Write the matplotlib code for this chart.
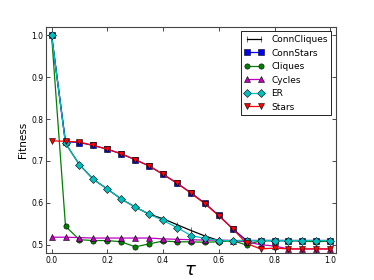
import matplotlib
matplotlib.use("Agg")
import matplotlib.pyplot as plt

tau = [0.0, 0.05, 0.1, 0.15, 0.2, 0.25, 0.3, 0.35, 0.4, 0.45, 0.5,
       0.55, 0.6, 0.65, 0.7, 0.75, 0.8, 0.85, 0.9, 0.95, 1.0]

conn_cliques = [1.0, 0.742, 0.691, 0.656, 0.633, 0.609, 0.590, 0.573, 0.562, 0.548, 0.534,
                0.521, 0.510, 0.510, 0.510, 0.510, 0.510, 0.510, 0.510, 0.510, 0.510]
conn_stars = [1.0, 0.746, 0.744, 0.737, 0.728, 0.717, 0.703, 0.688, 0.668, 0.647, 0.624,
              0.599, 0.570, 0.538, 0.510, 0.510, 0.510, 0.510, 0.510, 0.510, 0.510]
cliques = [1.0, 0.544, 0.512, 0.510, 0.510, 0.507, 0.495, 0.502, 0.509, 0.507, 0.507,
           0.506, 0.507, 0.510, 0.499, 0.510, 0.510, 0.510, 0.509, 0.507, 0.509]
cycles = [0.518, 0.518, 0.517, 0.516, 0.516, 0.516, 0.516, 0.516, 0.514, 0.513, 0.512,
          0.511, 0.511, 0.510, 0.507, 0.500, 0.497, 0.490, 0.490, 0.490, 0.490]
er = [1.0, 0.742, 0.691, 0.656, 0.633, 0.609, 0.590, 0.573, 0.558, 0.541, 0.522,
      0.515, 0.510, 0.510, 0.510, 0.510, 0.510, 0.510, 0.510, 0.510, 0.510]
stars = [0.748, 0.747, 0.745, 0.737, 0.728, 0.717, 0.703, 0.688, 0.668, 0.647, 0.623,
         0.598, 0.569, 0.538, 0.503, 0.490, 0.492, 0.490, 0.490, 0.490, 0.490]

series = [
    ("ConnCliques", conn_cliques, "k", "|"),
    ("ConnStars", conn_stars, "b", "s"),
    ("Cliques", cliques, "g", "o"),
    ("Cycles", cycles, "m", "^"),
    ("ER", er, "c", "D"),
    ("Stars", stars, "r", "v"),
]

fig = plt.figure(figsize=(3.74, 2.8), dpi=100)
ax = fig.add_axes([0.123, 0.096, 0.775, 0.808])
for name, vals, col, mk in series:
    ax.plot(tau, vals, color=col, marker=mk, markersize=3.8, linewidth=0.9,
            markeredgecolor="k", markeredgewidth=0.4, label=name)

ax.set_xlim(-0.02, 1.02)
ax.set_ylim(0.48, 1.02)
ax.set_xticks([0.0, 0.2, 0.4, 0.6, 0.8, 1.0])
ax.set_yticks([0.5, 0.6, 0.7, 0.8, 0.9, 1.0])
ax.tick_params(direction="in", top=True, right=True, labelsize=5.5, length=3, width=0.5, pad=2)
for s in ax.spines.values():
    s.set_linewidth(0.8)
    s.set_color("#444444")
ax.set_xlabel(r"$\tau$", fontsize=13, labelpad=-3)
ax.set_ylabel("Fitness", fontsize=7.5, labelpad=2)
leg = ax.legend(loc="upper right", fontsize=6.5, numpoints=2, fancybox=False,
                framealpha=1, edgecolor="k", handlelength=2.2, labelspacing=0.5,
                borderpad=0.4)
leg.get_frame().set_linewidth(0.6)
fig.savefig("out.png", dpi=100)
